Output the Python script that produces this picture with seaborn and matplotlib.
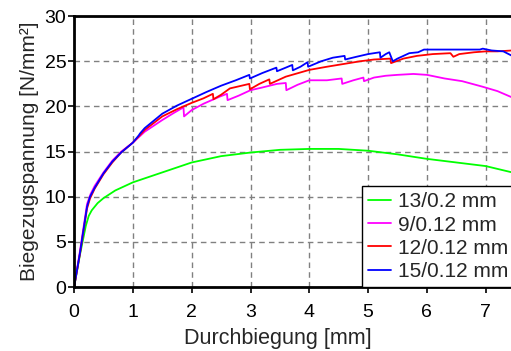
import numpy as np
import pandas as pd
import matplotlib
matplotlib.use('Agg')  # headless
import matplotlib.pyplot as plt
import seaborn as sns

# data
green_x = [0, 0.1, 0.2, 0.25, 0.3, 0.4, 0.5, 0.7, 1.0, 1.5, 2.0, 2.5, 3.0, 3.5, 4.0, 4.5, 5.0, 5.5, 6.0, 6.5, 7.0, 7.45]
green_y = [0, 3.6, 6.8, 7.9, 8.5, 9.3, 9.85, 10.7, 11.6, 12.7, 13.8, 14.5, 14.9, 15.2, 15.3, 15.3, 15.1, 14.7, 14.2, 13.8, 13.4, 12.7]

magenta_x = [0, 0.1, 0.22, 0.28, 0.35, 0.5, 0.65, 0.8, 1.0, 1.2, 1.5, 1.7, 1.86, 1.87, 2.0, 2.2, 2.48, 2.6, 2.61, 2.8,
             3.0, 3.2, 3.45, 3.6, 3.61, 3.8, 4.0, 4.3, 4.55, 4.56, 4.75, 4.92, 4.93, 5.1, 5.3, 5.5, 5.77, 6.0, 6.3,
             6.6, 6.94, 7.2, 7.45]
magenta_y = [0, 4.0, 9.2, 10.3, 11.2, 12.7, 14.0, 15.0, 16.0, 17.2, 18.5, 19.3, 19.9, 18.9, 19.6, 20.3, 21.1, 21.4, 20.7, 21.2,
             21.8, 22.1, 22.5, 22.6, 21.8, 22.4, 22.9, 22.9, 23.1, 22.5, 22.9, 23.2, 22.8, 23.2, 23.4, 23.5, 23.6, 23.5, 23.1,
             22.8, 22.2, 21.7, 21.0]

red_x = [0, 0.1, 0.22, 0.27, 0.35, 0.5, 0.65, 0.8, 1.0, 1.2, 1.5, 1.75, 2.0, 2.2, 2.36, 2.37, 2.5, 2.65, 2.98, 2.99,
         3.15, 3.32, 3.33, 3.6, 4.0, 4.3, 4.58, 4.86, 5.1, 5.38, 5.39, 5.6, 5.83, 6.1, 6.4, 6.45, 6.55, 6.8, 7.0, 7.2, 7.45]
red_y = [0, 3.7, 8.7, 9.8, 10.9, 12.5, 13.8, 14.9, 16.0, 17.4, 18.9, 19.7, 20.4, 20.9, 21.4, 20.8, 21.3, 22.0, 22.5, 21.9,
         22.5, 23.0, 22.5, 23.3, 24.05, 24.4, 24.7, 25.0, 25.2, 25.3, 24.8, 25.3, 25.6, 25.8, 25.9, 25.5, 25.8, 26.0, 26.1, 26.1, 26.2]

blue_x = [0, 0.1, 0.22, 0.27, 0.35, 0.5, 0.65, 0.8, 1.0, 1.1, 1.12, 1.2, 1.35, 1.5, 1.75, 2.0, 2.25, 2.5, 2.75, 2.98, 2.99,
          3.2, 3.44, 3.45, 3.6, 3.71, 3.72, 3.85, 3.97, 3.98, 4.2, 4.4, 4.6, 4.61, 4.8, 5.0, 5.2, 5.21, 5.3, 5.36, 5.42,
          5.5, 5.6, 5.7, 5.85, 5.95, 6.9, 6.95, 7.1, 7.3, 7.45]
blue_y = [0, 3.8, 8.9, 10.0, 11.0, 12.6, 13.9, 14.9, 16.0, 16.8, 17.0, 17.6, 18.4, 19.2, 20.1, 20.85, 21.6, 22.3, 22.9, 23.5, 23.1,
          23.7, 24.3, 23.9, 24.3, 24.6, 24.0, 24.4, 24.9, 24.4, 25.0, 25.4, 25.6, 25.2, 25.5, 25.8, 26.0, 25.4, 25.8, 26.0, 25.0,
          25.3, 25.6, 25.9, 26.0, 26.3, 26.3, 26.4, 26.2, 26.1, 25.6]

labels = ['13/0.2 mm', '9/0.12 mm', '12/0.12 mm', '15/0.12 mm']
colors = ['#00ff00', '#ff00ff', '#ff0000', '#0000ff']

frames = []
for lab, xs, ys in zip(labels, [green_x, magenta_x, red_x, blue_x], [green_y, magenta_y, red_y, blue_y]):
    frames.append(pd.DataFrame({'x': xs, 'y': ys, 'probe': lab}))
df = pd.concat(frames, ignore_index=True)

sns.set_style('ticks')
plt.rcParams['font.family'] = ['Liberation Sans', 'DejaVu Sans']

fig = plt.figure(figsize=(5.11, 3.51), dpi=100)
ax = fig.add_axes([0.145, 0.182, 0.855, 0.772])

sns.lineplot(data=df, x='x', y='y', hue='probe', hue_order=labels, palette=colors,
             sort=False, estimator=None, lw=1.3, ax=ax)

ax.set_xlim(0, 7.43)
ax.set_ylim(0, 30)
ax.set_xticks(range(0, 8))
ax.set_yticks(range(0, 31, 5))
ax.grid(True, color='#808080', ls=(0, (4, 3)), lw=1)
ax.set_axisbelow(True)
for s in ['left', 'bottom', 'top']:
    ax.spines[s].set_linewidth(2)
    ax.spines[s].set_color('black')
ax.spines['right'].set_visible(False)
ax.tick_params(labelsize=14, length=4, width=1.2, colors='black')
ax.tick_params(axis='y', pad=1.5)
ax.tick_params(axis='x', pad=8)
ax.set_xlabel('Durchbiegung [mm]', fontsize=15.5)
ax.xaxis.set_label_coords(0.467, -0.15)
ax.set_ylabel('Biegezugspannung [N/mm²]', fontsize=15, labelpad=4)

leg = ax.legend(loc='lower left', bbox_to_anchor=(0.659, 0.0), borderaxespad=0, fontsize=15,
                fancybox=False, framealpha=1, edgecolor='black', handlelength=1.1,
                handletextpad=0.35, labelspacing=0.2, borderpad=0.3)
leg.get_frame().set_linewidth(1)

plt.savefig('out.png', dpi=100)
plt.close()
